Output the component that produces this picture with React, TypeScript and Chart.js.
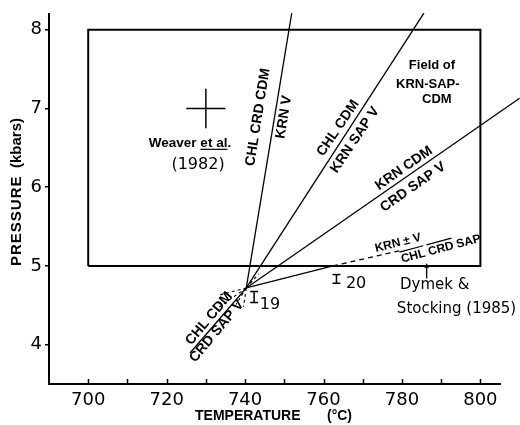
import React, { useEffect, useRef } from 'react';
import { Chart, registerables } from 'chart.js';

Chart.register(...registerables);

// ---- axis ticks ----
const xMinorTicks = [700, 710, 720, 730, 740, 750, 760, 770, 780, 790, 800];
const xTickLabels = [700, 720, 740, 760, 780, 800];
const yTickLabels = [4, 5, 6, 7, 8];

// ---- data (temperature °C, pressure kbar) ----
const fieldBox = [[700, 5], [700, 8], [800, 8], [800, 5], [700, 5]];
const invariantPoint = [740.3, 4.72];
const rxnChlCrdCdm_KrnV = [invariantPoint, [751.9, 8.21]];
const rxnChlCdm_KrnSapV = [invariantPoint, [785.6, 8.21]];
const rxnKrnCdm_CrdSapV = [invariantPoint, [810, 7.13]];
const rxnKrnV_ChlCrdSap = [invariantPoint, [762.4, 5.0]];
const rxnKrnV_ChlCrdSapDashed = [[762.4, 5.0], [780, 5.2]];
const rxnChlCdm_CrdSapV = [[725.95, 3.894], invariantPoint];
const metastableExt = [
  [invariantPoint, [739.6, 4.48]],
  [invariantPoint, [737.7, 4.51]],
  [invariantPoint, [732.6, 4.45]],
  [invariantPoint, [733.5, 4.63]],
  [invariantPoint, [743.5, 4.9]],
];
const weaverCenter = [730, 7];
const weaverErrT = 5;
const weaverErrP = 0.25;
const ref19 = { t: 742.3, pTop: 4.675, pBottom: 4.535 };
const ref20 = { t: 763.3, pTop: 4.89, pBottom: 4.78 };
const refCapHalf = 1;
const dymekArrow = [[786.3, 4.84], [786.3, 4.995]];

// ---- text annotations (anchor in data units) ----
type Lbl = { text: string; t: number; p: number; angle?: number; font: string; align?: CanvasTextAlign; over?: number[][]; under?: number[][] };
const LINE_FONT = "bold 14px 'Liberation Sans'";
const labels: Lbl[] = [
  { text: 'CHL CRD CDM', t: 743.3, p: 6.89, angle: -81, font: LINE_FONT },
  { text: 'KRN V', t: 749.9, p: 6.89, angle: -81, font: LINE_FONT },
  { text: 'CHL CDM', t: 763.7, p: 6.75, angle: -56, font: LINE_FONT },
  { text: 'KRN SAP V', t: 768.0, p: 6.6, angle: -56, font: LINE_FONT },
  { text: 'KRN CDM', t: 780.5, p: 6.24, angle: -35, font: LINE_FONT },
  { text: 'CRD SAP V', t: 782.8, p: 6.0, angle: -35, font: LINE_FONT },
  { text: 'KRN ± V', t: 779.0, p: 5.29, angle: -14, font: "bold 12px 'Liberation Sans'" },
  { text: 'CHL CRD SAP', t: 789.95, p: 5.215, angle: -15, font: "bold 12px 'Liberation Sans'", over: [[0, 3], [4, 7]] },
  { text: 'CHL CDM', t: 730.8, p: 4.33, angle: -50, font: LINE_FONT },
  { text: 'CRD SAP V', t: 732.8, p: 4.17, angle: -50, font: LINE_FONT },
  { text: 'Weaver et al.', t: 725.95, p: 6.56, font: "bold 13.5px 'Liberation Sans'", under: [[7, 12]] },
  { text: '(1982)', t: 728.0, p: 6.28, font: "16px 'DejaVu Sans'" },
  { text: 'Field of', t: 787.65, p: 7.55, font: "bold 13px 'Liberation Sans'" },
  { text: 'KRN-SAP-', t: 786.6, p: 7.3, font: "bold 13px 'Liberation Sans'" },
  { text: 'CDM', t: 788.9, p: 7.11, font: "bold 13px 'Liberation Sans'" },
  { text: 'Dymek &', t: 779.5, p: 4.76, font: "15px 'DejaVu Sans'", align: 'left' },
  { text: 'Stocking (1985)', t: 778.7, p: 4.45, font: "15px 'DejaVu Sans'", align: 'left' },
  { text: '19', t: 746.35, p: 4.5, font: "16px 'DejaVu Sans'" },
  { text: '20', t: 768.3, p: 4.77, font: "16px 'DejaVu Sans'" },
];

const seg = (pts: number[][], width = 1.3, dash: number[] = []) => ({
  data: pts.map(([x, y]) => ({ x, y })),
  showLine: true,
  borderColor: '#000',
  borderWidth: width,
  borderDash: dash,
  pointRadius: 0,
  clip: false as any,
});

const annotationPlugin = {
  id: 'annot',
  afterDatasetsDraw(chart: any) {
    const { ctx, scales } = chart;
    const xs = scales.x;
    const ys = scales.y;
    ctx.save();
    ctx.fillStyle = '#000';
    ctx.strokeStyle = '#000';
    // inside ticks on x axis
    ctx.lineWidth = 1.5;
    const bottom = chart.chartArea.bottom;
    xMinorTicks.forEach((v) => {
      const px = Math.round(xs.getPixelForValue(v)) + 0.5;
      ctx.beginPath();
      ctx.moveTo(px, bottom);
      ctx.lineTo(px, bottom - 5);
      ctx.stroke();
    });
    // labels
    labels.forEach((l) => {
      const px = xs.getPixelForValue(l.t);
      const py = ys.getPixelForValue(l.p);
      ctx.save();
      ctx.translate(px, py);
      ctx.rotate(((l.angle || 0) * Math.PI) / 180);
      ctx.font = l.font;
      ctx.textAlign = l.align || 'center';
      ctx.textBaseline = 'middle';
      ctx.fillText(l.text, 0, 0);
      const w = ctx.measureText(l.text).width;
      const x0 = l.align === 'left' ? 0 : -w / 2;
      const m = ctx.measureText('H');
      const capTop = -m.actualBoundingBoxAscent;
      const base = m.actualBoundingBoxDescent;
      ctx.lineWidth = 1.2;
      (l.over || []).forEach(([a, b]) => {
        const s = x0 + ctx.measureText(l.text.slice(0, a)).width;
        const e = x0 + ctx.measureText(l.text.slice(0, b)).width;
        ctx.beginPath();
        ctx.moveTo(s, capTop - 2);
        ctx.lineTo(e, capTop - 2);
        ctx.stroke();
      });
      (l.under || []).forEach(([a, b]) => {
        const s = x0 + ctx.measureText(l.text.slice(0, a)).width;
        const e = x0 + ctx.measureText(l.text.slice(0, b)).width;
        ctx.beginPath();
        ctx.moveTo(s, base + 2.5);
        ctx.lineTo(e, base + 2.5);
        ctx.stroke();
      });
      ctx.restore();
    });
    // axis titles
    ctx.font = "bold 14px 'Liberation Sans'";
    ctx.textBaseline = 'middle';
    ctx.textAlign = 'left';
    ctx.fillText('TEMPERATURE', 195, 416);
    ctx.fillText('(°C)', 327, 416);
    ctx.save();
    ctx.translate(17, 0);
    ctx.rotate(-Math.PI / 2);
    ctx.textAlign = 'left';
    ctx.font = "bold 15px 'Liberation Sans'";
    (ctx as any).letterSpacing = '1px';
    ctx.fillText('PRESSURE', -266, 0);
    (ctx as any).letterSpacing = '0px';
    ctx.fillText('(kbars)', -168, 0);
    ctx.restore();
    ctx.restore();
  },
};

export default function App() {
  const ref = useRef<HTMLCanvasElement | null>(null);
  useEffect(() => {
    document.body.style.margin = '0';
    const canvas = ref.current!;
    const datasets: any[] = [
      seg(fieldBox, 2),
      seg(rxnChlCrdCdm_KrnV),
      seg(rxnChlCdm_KrnSapV),
      seg(rxnKrnCdm_CrdSapV),
      seg(rxnKrnV_ChlCrdSap),
      seg(rxnKrnV_ChlCrdSapDashed, 1.3, [5, 4]),
      seg(rxnChlCdm_CrdSapV),
      ...metastableExt.map((m) => seg(m, 1.1, [3, 3])),
      seg([[weaverCenter[0] - weaverErrT, weaverCenter[1]], [weaverCenter[0] + weaverErrT, weaverCenter[1]]], 1.5),
      seg([[weaverCenter[0], weaverCenter[1] - weaverErrP], [weaverCenter[0], weaverCenter[1] + weaverErrP]], 1.5),
      ...[ref19, ref20].flatMap((r) => [
        seg([[r.t, r.pTop], [r.t, r.pBottom]], 1.5),
        seg([[r.t - refCapHalf, r.pTop], [r.t + refCapHalf, r.pTop]], 1.5),
        seg([[r.t - refCapHalf, r.pBottom], [r.t + refCapHalf, r.pBottom]], 1.5),
      ]),
      {
        ...seg(dymekArrow, 1.3),
        pointRadius: [0, 3],
        pointStyle: 'triangle',
        pointBackgroundColor: '#000',
        pointBorderWidth: 0,
      },
    ];
    const chart = new Chart(canvas, {
      type: 'scatter',
      data: { datasets },
      options: {
        animation: false,
        responsive: false,
        layout: { padding: { top: 14, right: 20, left: 0, bottom: 0 } },
        plugins: { legend: { display: false }, tooltip: { enabled: false } },
        scales: {
          x: {
            type: 'linear',
            min: 690,
            max: 805,
            afterBuildTicks: (s: any) => {
              s.ticks = xTickLabels.map((v) => ({ value: v }));
            },
            afterFit: (s: any) => {
              s.height = 41;
            },
            grid: { display: false },
            border: { display: true, color: '#000', width: 2 },
            ticks: {
              color: '#000',
              font: { family: 'DejaVu Sans', size: 18 },
              padding: -2,
              maxRotation: 0,
              autoSkip: false,
            },
          },
          y: {
            type: 'linear',
            min: 3.5,
            max: 8.2,
            afterBuildTicks: (s: any) => {
              s.ticks = yTickLabels.map((v) => ({ value: v }));
            },
            afterFit: (s: any) => {
              s.width = 49;
            },
            grid: { drawOnChartArea: false, drawTicks: true, tickLength: 4, color: '#000', lineWidth: 1.5 },
            border: { display: true, color: '#000', width: 2 },
            ticks: {
              color: '#000',
              font: { family: 'DejaVu Sans', size: 18 },
              padding: 3,
            },
          },
        },
      },
      plugins: [annotationPlugin],
    });
    return () => chart.destroy();
  }, []);
  return (
    <div style={{ width: 520, height: 425 }}>
      <canvas ref={ref} width={520} height={425} style={{ display: 'block' }} />
    </div>
  );
}
